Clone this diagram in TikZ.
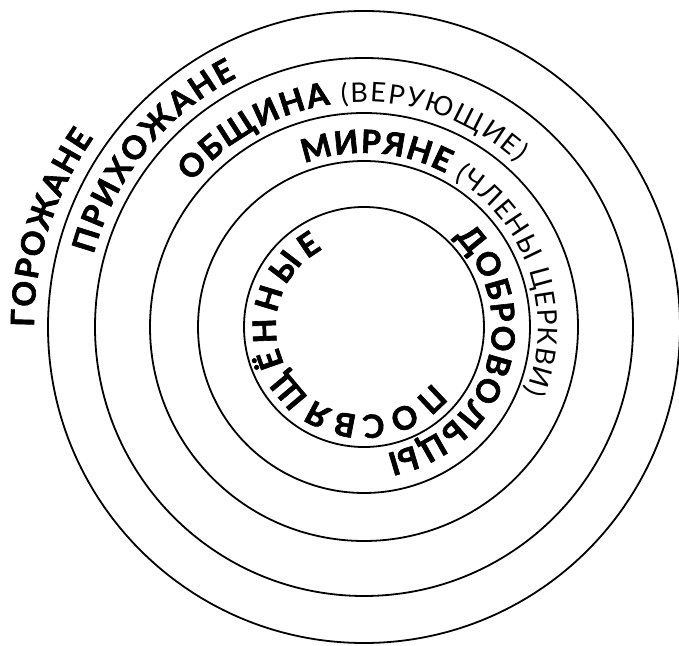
\documentclass[tikz,border=0pt]{standalone}
\usepackage{fontspec}
\setmainfont{Lato}[BoldFeatures={FakeBold=2}]
\usepackage{tikz}
\usetikzlibrary{decorations.text}
\newcommand{\ringb}{\fontsize{32}{32}\selectfont\bfseries}
\newcommand{\ringr}{\fontsize{27}{27}\selectfont\mdseries}

\begin{document}
\begin{tikzpicture}[x=1pt, y=1pt, line width=1.8pt,
    ringtext/.style={decorate, decoration={text along path, text align=fit to path, text={#1}}}]
      \useasboundingbox (0,0) rectangle (679,645);
      \coordinate (O) at (364,318);

      \draw (O) circle[radius=316];
      \draw (O) circle[radius=269];
      \draw (O) circle[radius=214];
      \draw (O) circle[radius=166];
      \draw (O) circle[radius=120];

      \path[ringtext={|\ringb|ГОРОЖАНЕ}] (O) ++(180:330) arc[start angle=180, end angle=145, radius=330];
      \path[ringtext={|\ringb|ПРИХОЖАНЕ}] (O) ++(165:280) arc[start angle=165, end angle=117, radius=280];
      \path[ringtext={|\ringb|ОБЩИНА |\ringr|(ВЕРУЮЩИЕ)}] (O) ++(140:225) arc[start angle=140, end angle=47, radius=225];
      \path[ringtext={|\ringb|МИРЯНЕ |\ringr|(ЧЛЕНЫ ЦЕРКВИ)}] (O) ++(110:174) arc[start angle=110, end angle=-22, radius=174];
      \path[ringtext={|\ringb|ДОБРОВОЛЬЦЫ}] (O) ++(45:128) arc[start angle=45, end angle=-80, radius=128];
      \path[ringtext={|\ringb|ПОСВЯЩЁННЫЕ}] (O) ++(-39:88) arc[start angle=-39, end angle=-242, radius=88];
    \end{tikzpicture}
\end{document}
